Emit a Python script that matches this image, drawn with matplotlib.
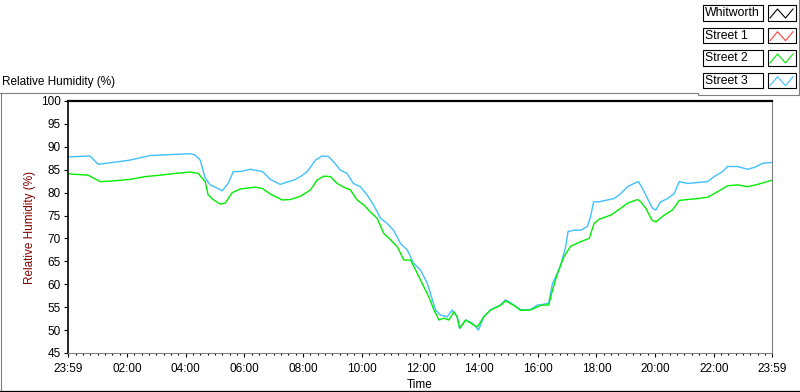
import matplotlib
matplotlib.use("Agg")
import matplotlib.pyplot as plt
from matplotlib.lines import Line2D
from matplotlib.patches import Rectangle

plt.rcParams['font.family'] = ['Liberation Sans', 'DejaVu Sans']
plt.rcParams['font.size'] = 8

# Street 3 (blue) - hours since midnight, relative humidity (%)
street3_t = [0.00, 0.73, 1.01, 1.42, 2.10, 2.78, 3.81, 4.15, 4.32, 4.49, 4.66, 4.83,
             5.10, 5.24, 5.45, 5.62, 5.86, 6.20, 6.61, 6.88, 7.22, 7.39, 7.67, 7.91,
             8.14, 8.42, 8.64, 8.86, 9.03, 9.27, 9.50, 9.71, 9.95, 10.18, 10.40, 10.64,
             10.86, 11.08, 11.32, 11.55, 11.76, 12.00, 12.23, 12.34, 12.51, 12.68, 12.91,
             13.08, 13.25, 13.33, 13.54, 13.77, 13.98, 14.15, 14.39, 14.73, 14.90, 15.18,
             15.42, 15.76, 15.99, 16.10, 16.37, 16.50, 16.67, 16.78, 16.95, 17.03, 17.24,
             17.46, 17.69, 17.80, 17.90, 18.09, 18.37, 18.60, 18.83, 19.06, 19.28, 19.43,
             19.57, 19.74, 19.91, 20.02, 20.19, 20.42, 20.65, 20.82, 21.11, 21.45, 21.79,
             22.01, 22.30, 22.47, 22.81, 23.15, 23.38, 23.67, 23.98]
street3_rh = [87.8, 88.0, 86.2, 86.5, 87.1, 88.1, 88.4, 88.5, 88.2, 87.1, 83.2, 81.7,
              80.9, 80.4, 82.1, 84.6, 84.6, 85.1, 84.6, 82.9, 81.8, 82.2, 82.7, 83.5,
              84.6, 87.1, 88.0, 87.9, 86.8, 84.9, 84.2, 82.0, 81.3, 79.5, 77.3, 74.4,
              73.3, 71.8, 68.9, 67.5, 64.6, 63.1, 60.2, 58.0, 54.4, 53.3, 52.9,
              54.4, 52.9, 50.4, 52.2, 51.5, 50.0, 52.9, 54.4, 55.5, 56.6, 55.5,
              54.4, 54.5, 55.5, 55.5, 55.9, 60.2, 62.4, 64.2, 68.2, 71.5, 71.8,
              71.8, 72.6, 74.8, 78.0, 78.0, 78.4, 78.7, 79.8, 81.3, 82.0, 82.4,
              80.9, 78.7, 76.6, 76.2, 78.0, 78.7, 79.8, 82.4, 82.0, 82.2, 82.4,
              83.5, 84.6, 85.7, 85.7, 85.1, 85.5, 86.4, 86.6]

# Street 2 (green)
street2_t = [0.00, 0.67, 1.08, 1.42, 1.76, 2.10, 2.61, 3.12, 3.64, 4.15, 4.42, 4.66,
             4.76, 4.93, 5.17, 5.34, 5.58, 5.86, 6.37, 6.61, 6.88, 7.29, 7.56, 7.91,
             8.25, 8.47, 8.70, 8.93, 9.16, 9.38, 9.61, 9.84, 10.07, 10.29, 10.52, 10.75,
             10.98, 11.21, 11.43, 11.66, 11.89, 12.11, 12.28, 12.46, 12.63, 12.80, 12.97,
             13.14, 13.25, 13.34, 13.54, 13.82, 13.94, 14.16, 14.39, 14.73, 14.90, 15.18,
             15.42, 15.76, 16.10, 16.37, 16.50, 16.67, 16.89, 17.12, 17.46, 17.75, 17.92,
             18.09, 18.49, 18.83, 19.06, 19.40, 19.51, 19.68, 19.89, 20.02, 20.31, 20.59,
             20.82, 21.11, 21.45, 21.79, 22.13, 22.47, 22.81, 23.15, 23.49, 23.98]
street2_rh = [84.1, 83.8, 82.4, 82.5, 82.7, 82.9, 83.5, 83.8, 84.2, 84.5, 84.2, 82.4,
              79.5, 78.5, 77.5, 77.7, 80.0, 80.8, 81.2, 80.9, 79.7, 78.4, 78.5, 79.2,
              80.6, 82.7, 83.6, 83.5, 82.0, 81.2, 80.6, 78.4, 77.3, 75.8, 74.4, 71.1,
              69.7, 68.2, 65.3, 65.3, 62.4, 59.5, 57.3, 54.4, 52.2, 52.6, 52.2,
              54.0, 52.9, 50.4, 52.2, 51.1, 50.7, 52.9, 54.4, 55.4, 56.4, 55.4,
              54.3, 54.4, 55.4, 55.5, 58.7, 62.4, 66.0, 68.3, 69.3, 70.0, 73.3,
              74.2, 75.1, 76.6, 77.7, 78.5, 78.0, 76.6, 74.0, 73.6, 75.1, 76.2,
              78.3, 78.5, 78.7, 79.0, 80.2, 81.5, 81.7, 81.3, 81.8, 82.7]

legend_names = ["Whitworth", "Street 1", "Street 2", "Street 3"]
legend_colors = ["black", "#ff4040", "#00ee00", "#40c0ff"]

x_start, x_end = -1 / 60, 24 - 1 / 60
major_ticks = [x_start, 2, 4, 6, 8, 10, 12, 14, 16, 18, 20, 22, x_end]
major_labels = ["23:59", "02:00", "04:00", "06:00", "08:00", "10:00", "12:00",
                "14:00", "16:00", "18:00", "20:00", "22:00", "23:59"]
y_ticks = list(range(45, 101, 5))

W, H = 800, 392


def fx(x):
    return x / W


def fy(y):
    return 1 - y / H


fig = plt.figure(figsize=(W / 100, H / 100), dpi=100)
ax = fig.add_axes([fx(68), fy(353), (772 - 68) / W, (353 - 101) / H])

ax.plot(street3_t, street3_rh, color=legend_colors[3], linewidth=1.0)
ax.plot(street2_t, street2_rh, color=legend_colors[2], linewidth=1.0)

ax.set_xlim(x_start, x_end)
ax.set_ylim(45, 100)
ax.set_xticks(major_ticks)
ax.set_xticklabels(major_labels)
ax.set_xticks([i * 0.25 for i in range(96)], minor=True)
ax.set_yticks(y_ticks)
ax.tick_params(axis='both', which='major', direction='out', length=3, width=0.8,
               labelsize=8.5)
ax.tick_params(axis='x', which='major', pad=4)
ax.tick_params(axis='y', which='major', pad=2)
ax.tick_params(axis='x', which='minor', direction='out', length=1.6, width=0.8)
ax.set_xlabel("Time", fontsize=8.5, labelpad=3)
ax.set_ylabel("Relative Humidity (%)", fontsize=8.5, color="#800000", labelpad=4)

ax.spines['top'].set_color('black')
ax.spines['top'].set_linewidth(1.6)
ax.spines['left'].set_color('black')
ax.spines['left'].set_linewidth(1.2)
ax.spines['right'].set_color('#808080')
ax.spines['bottom'].set_color('#808080')

# chart title
fig.text(fx(2), fy(82), "Relative Humidity (%)", fontsize=8.5, ha='left', va='center')

# outer frame of the graph panel
gray = '#808080'
fig.add_artist(Line2D([fx(0), fx(698)], [fy(92.5), fy(92.5)], color=gray, lw=0.8))
fig.add_artist(Line2D([fx(0.5), fx(0.5)], [fy(92.5), fy(392)], color=gray, lw=0.8))
fig.add_artist(Line2D([fx(0), fx(800)], [fy(391), fy(391)], color='black', lw=0.9))
fig.add_artist(Line2D([fx(698), fx(698), fx(798.5), fx(798.5)],
                      [fy(92.5), fy(95), fy(95), fy(0)], color=gray, lw=0.8))

# legend panel
row_tops = [5, 27.7, 50, 72.7]
for name, color, top in zip(legend_names, legend_colors, row_tops):
    fig.add_artist(Rectangle((fx(703), fy(top + 15.7)), 60 / W, 15.7 / H,
                             transform=fig.transFigure, fill=False,
                             edgecolor='black', lw=0.8))
    fig.text(fx(705), fy(top + 8), name, fontsize=8.8, ha='left', va='center')
    fig.add_artist(Rectangle((fx(767.5), fy(top + 15.7)), 28.5 / W, 15.7 / H,
                             transform=fig.transFigure, fill=False,
                             edgecolor='black', lw=0.8))
    icon_x = [770, 777.5, 785.5, 793]
    icon_y = [top + 13, top + 4, top + 13, top + 4]
    fig.add_artist(Line2D([fx(v) for v in icon_x], [fy(v) for v in icon_y],
                          color=color, lw=0.8))

fig.savefig("out.png", dpi=100)
